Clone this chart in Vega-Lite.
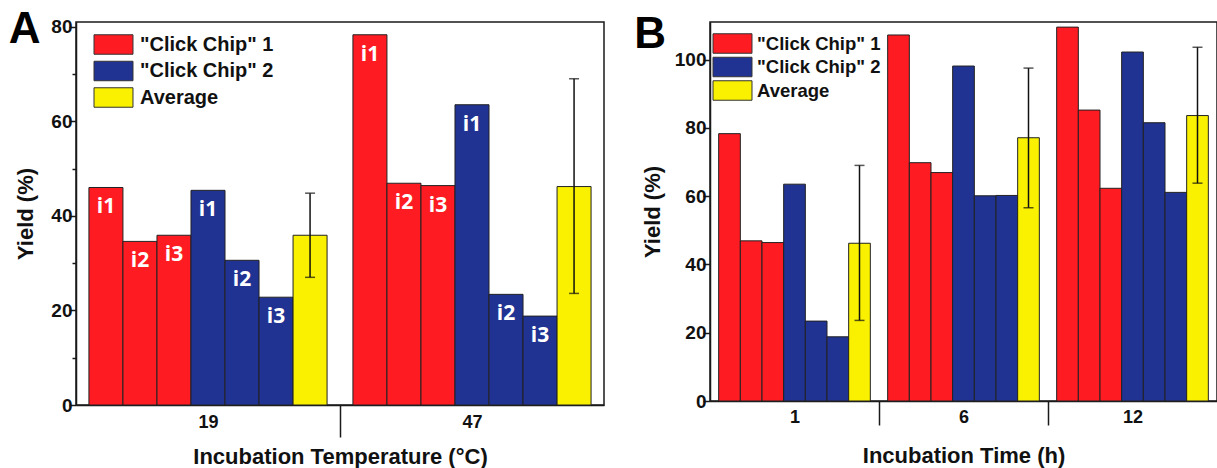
{
  "$schema": "https://vega.github.io/schema/vega-lite/v6.json",
  "padding": {"left": 8, "top": 7, "right": 0, "bottom": 0},
  "spacing": 28,
  "data": {"values": [
    {"panel": "A", "group": "19", "bar": "c1i1", "series": "\"Click Chip\" 1", "label": "i1", "value": 46.0},
    {"panel": "A", "group": "19", "bar": "c1i2", "series": "\"Click Chip\" 1", "label": "i2", "value": 34.6},
    {"panel": "A", "group": "19", "bar": "c1i3", "series": "\"Click Chip\" 1", "label": "i3", "value": 35.9},
    {"panel": "A", "group": "19", "bar": "c2i1", "series": "\"Click Chip\" 2", "label": "i1", "value": 45.4},
    {"panel": "A", "group": "19", "bar": "c2i2", "series": "\"Click Chip\" 2", "label": "i2", "value": 30.6},
    {"panel": "A", "group": "19", "bar": "c2i3", "series": "\"Click Chip\" 2", "label": "i3", "value": 22.8},
    {"panel": "A", "group": "19", "bar": "avg", "series": "Average", "label": "", "value": 35.9, "lo": 27.0, "hi": 44.8},
    {"panel": "A", "group": "47", "bar": "c1i1", "series": "\"Click Chip\" 1", "label": "i1", "value": 78.3},
    {"panel": "A", "group": "47", "bar": "c1i2", "series": "\"Click Chip\" 1", "label": "i2", "value": 46.9},
    {"panel": "A", "group": "47", "bar": "c1i3", "series": "\"Click Chip\" 1", "label": "i3", "value": 46.4},
    {"panel": "A", "group": "47", "bar": "c2i1", "series": "\"Click Chip\" 2", "label": "i1", "value": 63.5},
    {"panel": "A", "group": "47", "bar": "c2i2", "series": "\"Click Chip\" 2", "label": "i2", "value": 23.4},
    {"panel": "A", "group": "47", "bar": "c2i3", "series": "\"Click Chip\" 2", "label": "i3", "value": 18.8},
    {"panel": "A", "group": "47", "bar": "avg", "series": "Average", "label": "", "value": 46.2, "lo": 23.6, "hi": 69.0},
    {"panel": "B", "group": "1", "bar": "c1i1", "series": "\"Click Chip\" 1", "label": "i1", "value": 78.3},
    {"panel": "B", "group": "1", "bar": "c1i2", "series": "\"Click Chip\" 1", "label": "i2", "value": 46.9},
    {"panel": "B", "group": "1", "bar": "c1i3", "series": "\"Click Chip\" 1", "label": "i3", "value": 46.4},
    {"panel": "B", "group": "1", "bar": "c2i1", "series": "\"Click Chip\" 2", "label": "i1", "value": 63.5},
    {"panel": "B", "group": "1", "bar": "c2i2", "series": "\"Click Chip\" 2", "label": "i2", "value": 23.4},
    {"panel": "B", "group": "1", "bar": "c2i3", "series": "\"Click Chip\" 2", "label": "i3", "value": 18.8},
    {"panel": "B", "group": "1", "bar": "avg", "series": "Average", "label": "", "value": 46.2, "lo": 23.6, "hi": 69.0},
    {"panel": "B", "group": "6", "bar": "c1i1", "series": "\"Click Chip\" 1", "label": "i1", "value": 107.2},
    {"panel": "B", "group": "6", "bar": "c1i2", "series": "\"Click Chip\" 1", "label": "i2", "value": 69.8},
    {"panel": "B", "group": "6", "bar": "c1i3", "series": "\"Click Chip\" 1", "label": "i3", "value": 66.9},
    {"panel": "B", "group": "6", "bar": "c2i1", "series": "\"Click Chip\" 2", "label": "i1", "value": 98.1},
    {"panel": "B", "group": "6", "bar": "c2i2", "series": "\"Click Chip\" 2", "label": "i2", "value": 60.1},
    {"panel": "B", "group": "6", "bar": "c2i3", "series": "\"Click Chip\" 2", "label": "i3", "value": 60.2},
    {"panel": "B", "group": "6", "bar": "avg", "series": "Average", "label": "", "value": 77.1, "lo": 56.6, "hi": 97.5},
    {"panel": "B", "group": "12", "bar": "c1i1", "series": "\"Click Chip\" 1", "label": "i1", "value": 109.5},
    {"panel": "B", "group": "12", "bar": "c1i2", "series": "\"Click Chip\" 1", "label": "i2", "value": 85.2},
    {"panel": "B", "group": "12", "bar": "c1i3", "series": "\"Click Chip\" 1", "label": "i3", "value": 62.3},
    {"panel": "B", "group": "12", "bar": "c2i1", "series": "\"Click Chip\" 2", "label": "i1", "value": 102.2},
    {"panel": "B", "group": "12", "bar": "c2i2", "series": "\"Click Chip\" 2", "label": "i2", "value": 81.5},
    {"panel": "B", "group": "12", "bar": "c2i3", "series": "\"Click Chip\" 2", "label": "i3", "value": 61.1},
    {"panel": "B", "group": "12", "bar": "avg", "series": "Average", "label": "", "value": 83.6, "lo": 63.8, "hi": 103.6}
  ]},
  "config": {
    "view": {"stroke": "#1a1a1a", "strokeWidth": 1.5},
    "font": "Liberation Sans",
    "axis": {
      "domainColor": "#1a1a1a", "domainWidth": 1.5, "tickColor": "#1a1a1a", "tickWidth": 1.5,
      "labelColor": "#111", "labelFont": "Liberation Sans", "labelFontWeight": "bold", "labelFontSize": 19,
      "titleFont": "Liberation Sans", "titleFontWeight": "bold", "titleFontSize": 22, "titleColor": "#111", "grid": false
    },
    "legend": {
      "title": null, "symbolType": "M-2,-1H2V1H-2Z", "symbolSize": 380,
      "symbolStrokeColor": "#333", "symbolStrokeWidth": 1, "symbolOpacity": 1,
      "labelFont": "Liberation Sans", "labelFontWeight": "bold", "labelColor": "#111"
    }
  },
  "resolve": {"scale": {"x": "independent", "y": "independent", "xOffset": "independent", "color": "independent"}},
  "hconcat": [
    {
      "width": 528, "height": 383,
      "title": {"text": "A", "anchor": "start", "frame": "bounds", "fontSize": 44, "fontWeight": "bold", "font": "Liberation Sans", "color": "#000", "offset": -34.5, "dx": -6},
      "transform": [{"filter": "datum.panel == 'A'"}],
      "encoding": {
        "x": {"field": "group", "type": "nominal", "scale": {"domain": ["19", "47"], "paddingInner": 0, "paddingOuter": 0},
          "axis": {"title": "Incubation Temperature (°C)", "labelAngle": 0, "tickBand": "extent", "tickSize": 32, "labelFontSize": 18,
            "tickOpacity": {"condition": {"test": "datum.value === '19'", "value": 1}, "value": 0},
            "labelPadding": -24, "titlePadding": 9}},
        "xOffset": {"field": "bar", "type": "nominal", "scale": {"domain": ["c1i1", "c1i2", "c1i3", "c2i1", "c2i2", "c2i3", "avg"], "paddingInner": 0, "paddingOuter": 0.38}}
      },
      "layer": [
        {
          "mark": {"type": "bar", "stroke": "#222", "strokeWidth": 1},
          "encoding": {
            "y": {"field": "value", "type": "quantitative", "scale": {"domain": [0, 81], "nice": false},
              "axis": {"title": "Yield (%)", "values": [0, 10, 20, 30, 40, 50, 60, 70, 80],
                "labelExpr": "datum.value % 20 === 0 ? datum.label : ''",
                "tickSize": {"condition": {"test": "datum.value % 20 !== 0", "value": 4}, "value": 7},
                "labelPadding": -3, "titlePadding": 13}},
            "color": {"field": "series", "type": "nominal",
              "scale": {"domain": ["\"Click Chip\" 1", "\"Click Chip\" 2", "Average"], "range": ["#fe1b22", "#203292", "#f9f100"]},
              "legend": {"orient": "top-left", "offset": 12, "symbolOffset": 15, "labelOffset": 16, "labelFontSize": 20, "rowPadding": 1.5}}
          }
        },
        {
          "transform": [{"filter": "isValid(datum.lo)"}],
          "mark": {"type": "rule", "color": "#111", "strokeWidth": 1.5},
          "encoding": {"y": {"field": "lo", "type": "quantitative", "title": "Yield (%)"}, "y2": {"field": "hi"}}
        },
        {
          "transform": [{"filter": "isValid(datum.lo)"}],
          "mark": {"type": "tick", "orient": "horizontal", "size": 10, "thickness": 1.5, "color": "#111"},
          "encoding": {"y": {"field": "lo", "type": "quantitative", "title": "Yield (%)"}}
        },
        {
          "transform": [{"filter": "isValid(datum.hi)"}],
          "mark": {"type": "tick", "orient": "horizontal", "size": 10, "thickness": 1.5, "color": "#111"},
          "encoding": {"y": {"field": "hi", "type": "quantitative", "title": "Yield (%)"}}
        },
        {
          "transform": [{"filter": "datum.label != ''"}],
          "mark": {"type": "text", "color": "white", "font": "Open Sans", "fontWeight": "bold", "fontSize": 21, "baseline": "middle", "dy": 20},
          "encoding": {"y": {"field": "value", "type": "quantitative", "title": "Yield (%)"}, "text": {"field": "label"}}
        }
      ]
    },
    {
      "width": 507, "height": 379,
      "title": {"text": "B", "anchor": "start", "frame": "bounds", "fontSize": 44, "fontWeight": "bold", "font": "Liberation Sans", "color": "#000", "offset": -34.5, "dx": -7},
      "transform": [{"filter": "datum.panel == 'B'"}],
      "encoding": {
        "x": {"field": "group", "type": "nominal", "scale": {"domain": ["1", "6", "12"], "paddingInner": 0, "paddingOuter": 0},
          "axis": {"title": "Incubation Time (h)", "labelAngle": 0, "tickBand": "extent", "tickSize": 24, "labelFontSize": 18,
            "tickOpacity": {"condition": {"test": "datum.value === '1' || datum.value === '6'", "value": 1}, "value": 0},
            "labelPadding": -17, "titlePadding": 19}},
        "xOffset": {"field": "bar", "type": "nominal", "scale": {"domain": ["c1i1", "c1i2", "c1i3", "c2i1", "c2i2", "c2i3", "avg"], "paddingInner": 0, "paddingOuter": 0.4}}
      },
      "layer": [
        {
          "mark": {"type": "bar", "stroke": "#222", "strokeWidth": 1},
          "encoding": {
            "y": {"field": "value", "type": "quantitative", "scale": {"domain": [0, 111], "nice": false},
              "axis": {"title": "Yield (%)", "values": [0, 10, 20, 30, 40, 50, 60, 70, 80, 90, 100, 110],
                "labelExpr": "datum.value % 20 === 0 ? datum.label : ''",
                "tickSize": {"condition": {"test": "datum.value % 20 !== 0", "value": 4}, "value": 7},
                "labelPadding": -3, "titlePadding": 10}},
            "color": {"field": "series", "type": "nominal",
              "scale": {"domain": ["\"Click Chip\" 1", "\"Click Chip\" 2", "Average"], "range": ["#fe1b22", "#203292", "#f9f100"]},
              "legend": {"orient": "top-left", "offset": 10.5, "symbolOffset": 1, "labelOffset": 14, "labelFontSize": 18.5, "rowPadding": -1.5}}
          }
        },
        {
          "transform": [{"filter": "isValid(datum.lo)"}],
          "mark": {"type": "rule", "color": "#111", "strokeWidth": 1.5},
          "encoding": {"y": {"field": "lo", "type": "quantitative", "title": "Yield (%)"}, "y2": {"field": "hi"}}
        },
        {
          "transform": [{"filter": "isValid(datum.lo)"}],
          "mark": {"type": "tick", "orient": "horizontal", "size": 10, "thickness": 1.5, "color": "#111"},
          "encoding": {"y": {"field": "lo", "type": "quantitative", "title": "Yield (%)"}}
        },
        {
          "transform": [{"filter": "isValid(datum.hi)"}],
          "mark": {"type": "tick", "orient": "horizontal", "size": 10, "thickness": 1.5, "color": "#111"},
          "encoding": {"y": {"field": "hi", "type": "quantitative", "title": "Yield (%)"}}
        }
      ]
    }
  ]
}
